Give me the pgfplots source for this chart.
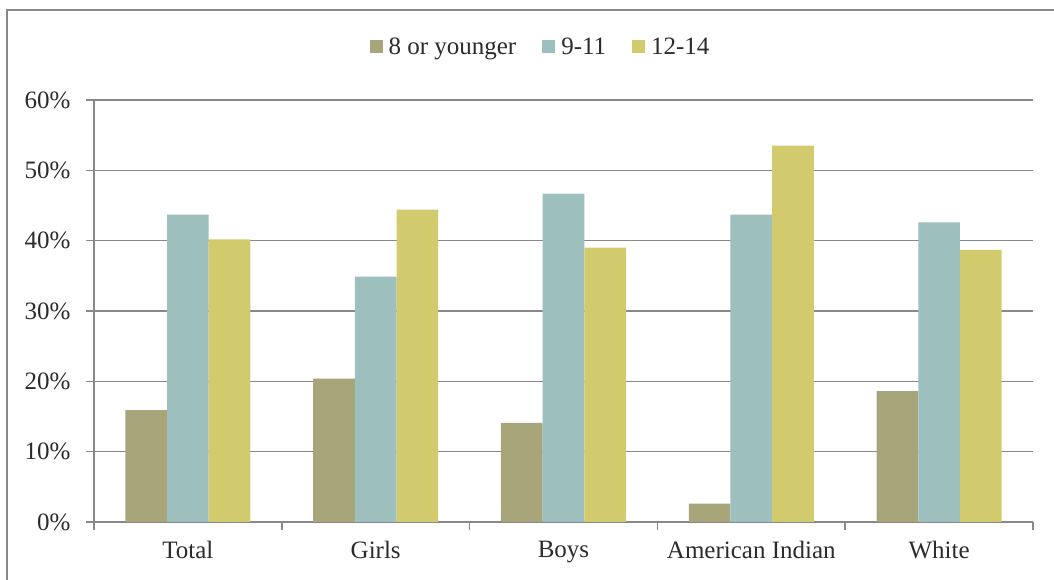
\documentclass[border=0pt]{standalone}
\usepackage{pgfplots}
\pgfplotsset{compat=1.18}
\usepackage{fontspec}
\setmainfont{Liberation Serif}
\definecolor{colA}{HTML}{A8A57B}
\definecolor{colB}{HTML}{9DBFBE}
\definecolor{colC}{HTML}{D2CB6D}
\definecolor{axgray}{HTML}{888888}
\definecolor{txt}{HTML}{2B2B2B}
\begin{document}
\begin{tikzpicture}[x=1bp,y=1bp]
\useasboundingbox (0,0) rectangle (1054,580);
\draw[axgray,line width=2bp] (7,-20) -- (7,570) -- (1080,570);
\begin{axis}[
  at={(94bp,58bp)}, anchor=south west,
  scale only axis, width=939bp, height=422bp,
  ybar=0pt, bar width=0.222,
  xmin=-0.5, xmax=4.5, ymin=0, ymax=60,
  axis x line=bottom, axis y line=left,
  axis line style={-, axgray, line width=1.5bp},
  every tick/.style={axgray, line width=1.5bp},
  tick align=outside,
  xtick={0,1,2,3,4},
  xticklabels={Total,Girls,Boys,American Indian,White},
  major x tick style={draw=none},
  minor xtick={-0.5,0.5,1.5,2.5,3.5,4.5},
  minor tick length=8bp,
  major tick length=8bp,
  ytick={0,10,20,30,40,50,60},
  yticklabels={0\%,10\%,20\%,30\%,40\%,50\%,60\%},
  ymajorgrids,
  major grid style={axgray, line width=1.5bp},
  ticklabel style={font=\fontsize{25bp}{30bp}\selectfont, text=txt},
  xticklabel style={yshift=-8bp},
  yticklabel style={xshift=-12bp},
  legend columns=3,
  legend style={draw=none, fill=none, at={(axis description cs:0.5,1)}, anchor=center,
    xshift=-23bp, yshift=53bp, font=\fontsize{25bp}{30bp}\selectfont, text=txt,
    /tikz/every odd column/.append style={column sep=4bp},
    /tikz/every even column/.append style={column sep=24bp}},
  legend image code/.code={\fill[#1,draw=none] (0bp,-6.5bp) rectangle (13bp,6.5bp);},
]
\addplot[fill=colA, draw=none, bar shift=-0.222] coordinates {(0,15.9) (1,20.4) (2,14.1) (3,2.6) (4,18.6)};
\addplot[fill=colB, draw=none, bar shift=0] coordinates {(0,43.7) (1,34.9) (2,46.7) (3,43.7) (4,42.6)};
\addplot[fill=colC, draw=none, bar shift=0.222] coordinates {(0,40.2) (1,44.4) (2,39.0) (3,53.5) (4,38.7)};
\legend{8 or younger, 9-11, 12-14}
\end{axis}
\end{tikzpicture}
\end{document}
